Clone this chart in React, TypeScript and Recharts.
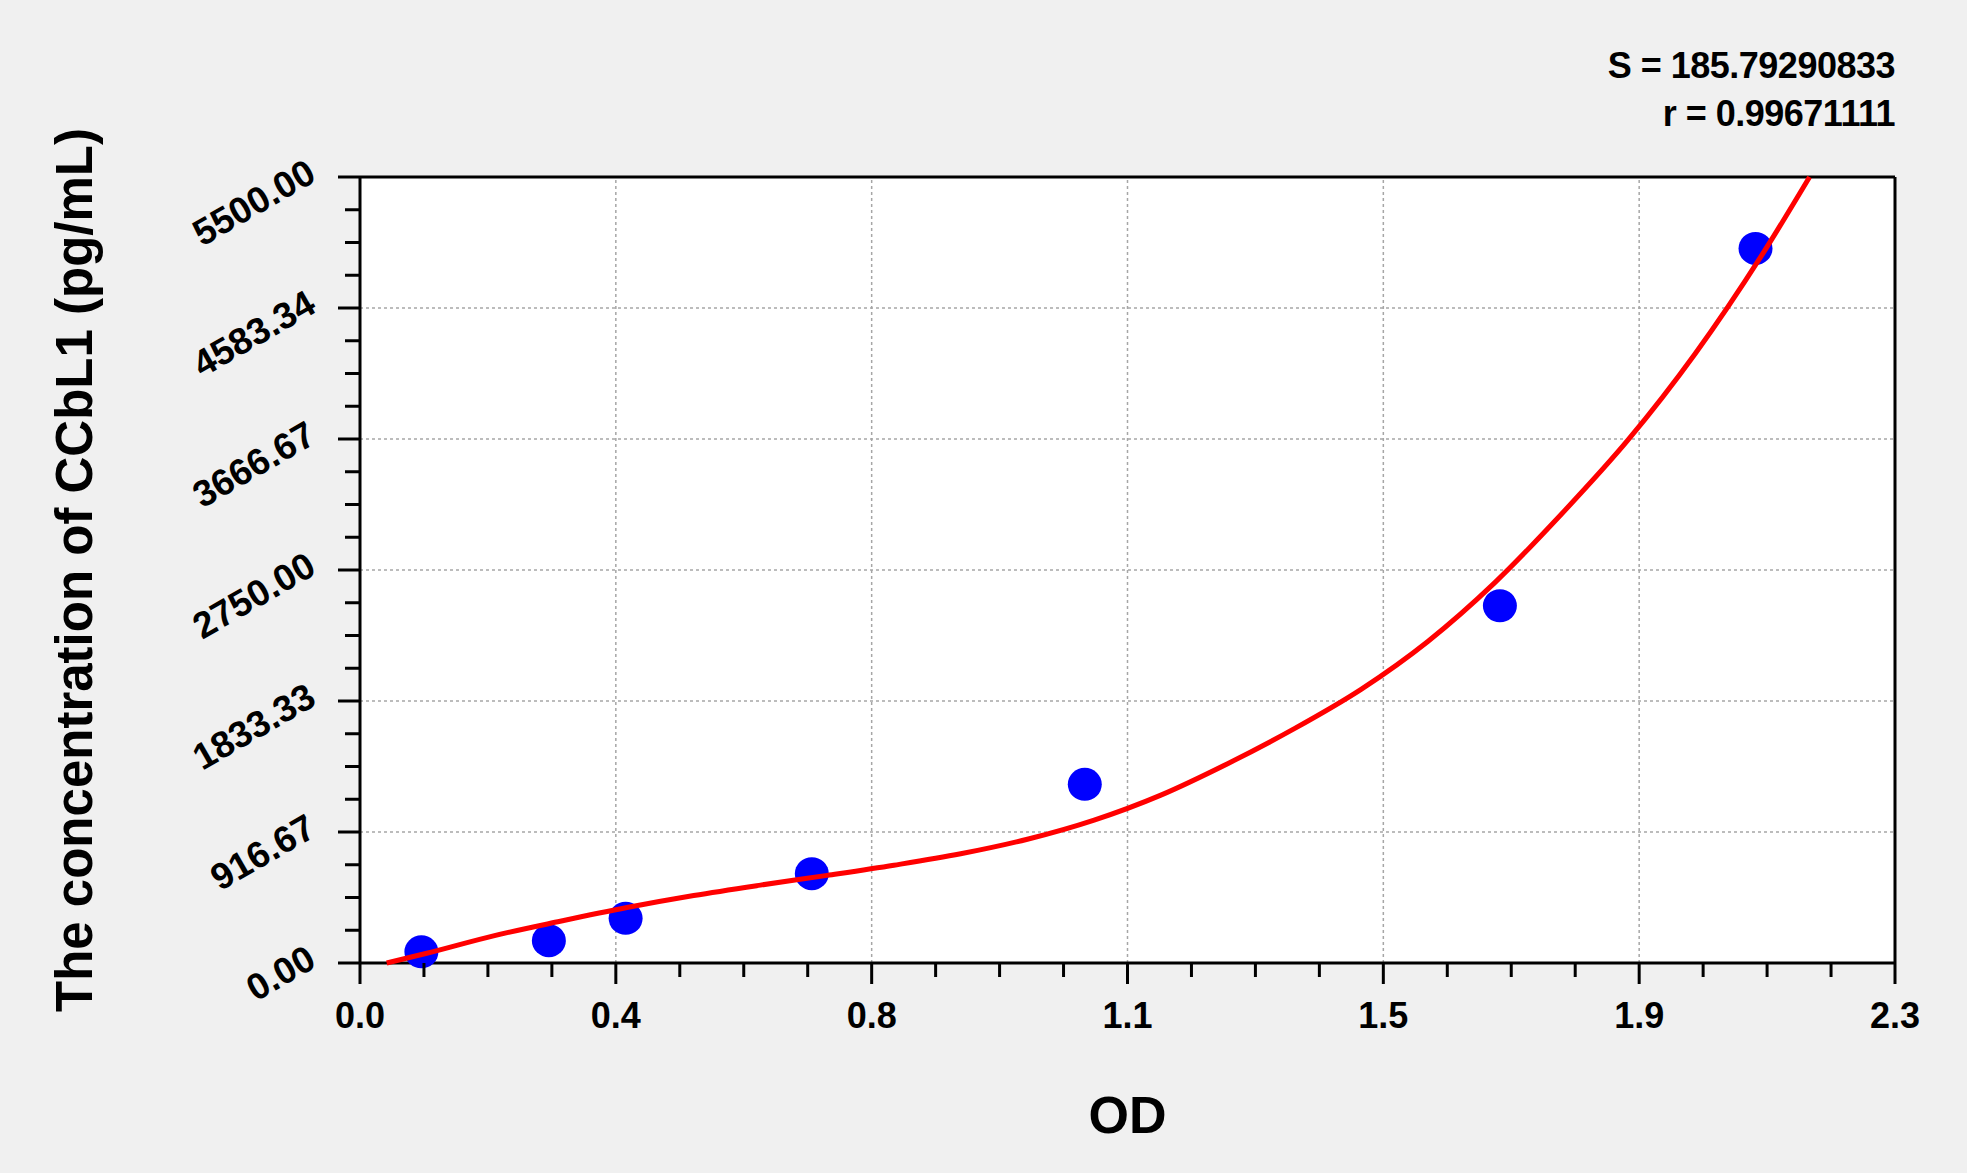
import React from 'react';
import {
  ComposedChart,
  XAxis,
  YAxis,
  Line,
  Scatter,
  ReferenceLine,
  CartesianGrid,
  Label,
} from 'recharts';

const FONT = '"Liberation Sans", Arial, Helvetica, sans-serif';

// standards (OD reading -> concentration in pg/mL)
const pointOD = [0.092, 0.283, 0.398, 0.677, 1.086, 1.708, 2.091];
const pointConc = [78.125, 156.25, 312.5, 625, 1250, 2500, 5000];

// fitted curve
const curveOD = [
  0.04, 0.1, 0.2, 0.3, 0.4, 0.5, 0.6, 0.7, 0.8, 0.9, 1.0, 1.1,
  1.2, 1.3, 1.4, 1.5, 1.6, 1.7, 1.8, 1.9, 2.0, 2.1, 2.172,
];
const curveConc = [
  0, 68, 190, 292, 388, 472, 545, 613, 684, 764, 866, 1000,
  1175, 1395, 1640, 1915, 2250, 2660, 3140, 3660, 4260, 4950, 5500,
];

const xMajorTicks = [0, 0.38333, 0.76667, 1.15, 1.53333, 1.91667, 2.3];
const xTickLabels = ['0.0', '0.4', '0.8', '1.1', '1.5', '1.9', '2.3'];
const yMajorTicks = [0, 916.67, 1833.33, 2750, 3666.67, 4583.33, 5500];
const yTickLabels = ['0.00', '916.67', '1833.33', '2750.00', '3666.67', '4583.34', '5500.00'];

const fitStats = ['S = 185.79290833', 'r = 0.99671111'];

// 3 minor ticks between each pair of major ticks
function withMinor(major: number[]) {
  const out: number[] = [];
  major.forEach((t, i) => {
    out.push(t);
    if (i < major.length - 1) {
      const step = (major[i + 1] - t) / 4;
      out.push(t + step, t + 2 * step, t + 3 * step);
    }
  });
  return out;
}

const xAllTicks = withMinor(xMajorTicks);
const yAllTicks = withMinor(yMajorTicks);

const points = pointOD.map((x, i) => ({ x, y: pointConc[i] }));
const curve = curveOD.map((x, i) => ({ x, y: curveConc[i] }));

const majorIndex = (list: number[], v: number) =>
  list.findIndex((t) => Math.abs(t - v) < 1e-6);

function XTick(props: any) {
  const { x, y, payload } = props;
  const i = majorIndex(xMajorTicks, payload.value);
  const major = i >= 0;
  return (
    <g>
      <line x1={x} y1={y} x2={x} y2={y + (major ? 21 : 14)} stroke="#000" strokeWidth={3} />
      {major && (
        <text
          x={x}
          y={y + 65}
          textAnchor="middle"
          fontFamily={FONT}
          fontWeight="bold"
          fontSize={36}
          fill="#000"
        >
          {xTickLabels[i]}
        </text>
      )}
    </g>
  );
}

function YTick(props: any) {
  const { x, y, payload } = props;
  const i = majorIndex(yMajorTicks, payload.value);
  const major = i >= 0;
  const tx = x - 42;
  const ty = y + 3;
  return (
    <g>
      <line x1={x} y1={y} x2={x - (major ? 22 : 15)} y2={y} stroke="#000" strokeWidth={3} />
      {major && (
        <text
          x={tx}
          y={ty}
          textAnchor="end"
          transform={`rotate(-30, ${tx}, ${ty})`}
          fontFamily={FONT}
          fontWeight="bold"
          fontSize={37}
          fill="#000"
        >
          {yTickLabels[i]}
        </text>
      )}
    </g>
  );
}

const Dot = (props: any) => (
  <ellipse cx={props.cx} cy={props.cy} rx={17} ry={16.5} fill="#0000ff" />
);

export default function App() {
  return (
    <div
      style={{
        position: 'absolute',
        left: 0,
        top: 0,
        width: 1967,
        height: 1173,
        background: '#f0f0f0',
        fontFamily: FONT,
      }}
    >
      <div
        style={{
          position: 'absolute',
          right: 72,
          top: 42,
          textAlign: 'right',
          fontSize: 36,
          fontWeight: 'bold',
          lineHeight: '48px',
          letterSpacing: '-0.5px',
          color: '#000',
          whiteSpace: 'pre',
        }}
      >
        {fitStats.map((s) => (
          <div key={s}>{s}</div>
        ))}
      </div>
      <ComposedChart
        width={1967}
        height={1173}
        margin={{ top: 176, right: 71, bottom: 209, left: 359 }}
      >
        <CartesianGrid fill="#ffffff" horizontal={false} vertical={false} />
        {xMajorTicks.slice(1, -1).map((v) => (
          <ReferenceLine
            key={`gx${v}`}
            x={v}
            stroke="#a6a6a6"
            strokeWidth={1.5}
            strokeDasharray="3 3"
          />
        ))}
        {yMajorTicks.slice(1, -1).map((v) => (
          <ReferenceLine
            key={`gy${v}`}
            y={v}
            stroke="#a6a6a6"
            strokeWidth={1.5}
            strokeDasharray="3 3"
          />
        ))}
        <XAxis
          dataKey="x"
          type="number"
          domain={[0, 2.3]}
          ticks={xAllTicks}
          interval={0}
          tickSize={0}
          tickMargin={0}
          tickLine={false}
          tick={<XTick />}
          height={1}
          axisLine={{ stroke: '#000', strokeWidth: 3 }}
        >
          <Label
            content={(p: any) => {
              const vb = p.viewBox || { x: 360, y: 963, width: 1535 };
              return (
                <text
                  x={vb.x + vb.width / 2}
                  y={vb.y + 170}
                  textAnchor="middle"
                  fontFamily={FONT}
                  fontWeight="bold"
                  fontSize={52}
                  fill="#000"
                >
                  OD
                </text>
              );
            }}
          />
        </XAxis>
        <XAxis
          xAxisId="top"
          orientation="top"
          type="number"
          domain={[0, 2.3]}
          tick={false}
          tickLine={false}
          height={1}
          axisLine={{ stroke: '#000', strokeWidth: 3 }}
        />
        <YAxis
          type="number"
          domain={[0, 5500]}
          ticks={yAllTicks}
          interval={0}
          tickSize={0}
          tickMargin={0}
          tickLine={false}
          tick={<YTick />}
          width={1}
          axisLine={{ stroke: '#000', strokeWidth: 3 }}
        >
          <Label
            content={(p: any) => {
              const vb = p.viewBox || { x: 359, y: 177, width: 1, height: 786 };
              const tx = vb.x + vb.width - 268;
              const ty = vb.y + vb.height / 2;
              return (
                <text
                  x={tx}
                  y={ty}
                  textAnchor="middle"
                  transform={`rotate(-90, ${tx}, ${ty})`}
                  fontFamily={FONT}
                  fontWeight="bold"
                  fontSize={51}
                  fill="#000"
                >
                  The concentration of CCbL1 (pg/mL)
                </text>
              );
            }}
          />
        </YAxis>
        <YAxis
          yAxisId="right"
          orientation="right"
          type="number"
          domain={[0, 5500]}
          tick={false}
          tickLine={false}
          width={1}
          axisLine={{ stroke: '#000', strokeWidth: 3 }}
        />
        <Scatter
          data={points}
          dataKey="y"
          shape={Dot}
          isAnimationActive={false}
          zIndex={600}
        />
        <Line
          data={curve}
          dataKey="y"
          type="monotone"
          stroke="#ff0000"
          strokeWidth={5}
          dot={false}
          activeDot={false}
          isAnimationActive={false}
          zIndex={700}
        />
      </ComposedChart>
    </div>
  );
}
